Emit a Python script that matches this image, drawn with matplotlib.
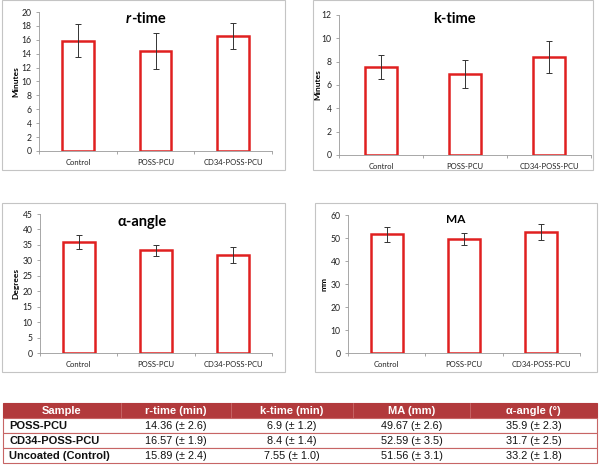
import matplotlib.pyplot as plt
from matplotlib.patches import Rectangle

plt.rcParams['font.family'] = ['Lato', 'DejaVu Sans']

groups = ["Control", "POSS-PCU", "CD34-POSS-PCU"]

r_time = [15.89, 14.36, 16.57]
r_err = [2.4, 2.6, 1.9]
k_time = [7.55, 6.9, 8.4]
k_err = [1.0, 1.2, 1.4]
alpha = [35.9, 33.2, 31.7]
alpha_err = [2.3, 1.8, 2.5]
ma = [51.56, 49.67, 52.59]
ma_err = [3.1, 2.6, 3.5]

table_header = ["Sample", "r-time (min)", "k-time (min)", "MA (mm)", "α-angle (°)"]
table_rows = [
    ["POSS-PCU", "14.36 (± 2.6)", "6.9 (± 1.2)", "49.67 (± 2.6)", "35.9 (± 2.3)"],
    ["CD34-POSS-PCU", "16.57 (± 1.9)", "8.4 (± 1.4)", "52.59 (± 3.5)", "31.7 (± 2.5)"],
    ["Uncoated (Control)", "15.89 (± 2.4)", "7.55 (± 1.0)", "51.56 (± 3.1)", "33.2 (± 1.8)"],
]

W, H = 600, 465
fig = plt.figure(figsize=(6, 4.65), dpi=100)


def px_axes(x0, x1, ytop, ybot):
    return fig.add_axes([x0 / W, 1 - ybot / H, (x1 - x0) / W, (ybot - ytop) / H])


def frame(x0, x1, ytop, ybot):
    fig.add_artist(Rectangle((x0 / W, 1 - ybot / H), (x1 - x0) / W, (ybot - ytop) / H,
                             transform=fig.transFigure, fill=False,
                             edgecolor="#c4c4c4", linewidth=0.8))


def bar_panel(ax, vals, errs, ymax, step, ylabel, width, label_x):
    x = range(len(vals))
    ax.bar(x, vals, width=width, facecolor="white", edgecolor="#e02020", linewidth=1.8)
    ax.errorbar(x, vals, yerr=errs, fmt="none", ecolor="#333333", elinewidth=0.7,
                capsize=2.2, capthick=0.7)
    ax.set_xlim(-0.5, len(vals) - 0.5)
    ax.set_ylim(0, ymax)
    ax.set_yticks(range(0, ymax + 1, step))
    ax.set_xticks(list(x))
    ax.set_xticklabels(groups)
    ax.set_xticks([i - 0.5 for i in range(len(vals) + 1)], minor=True)
    ax.tick_params(axis="x", which="major", length=0, labelsize=5.5, pad=6, labelcolor="#222222")
    ax.tick_params(axis="x", which="minor", length=2.5, color="#999999", width=0.6)
    ax.tick_params(axis="y", length=2.5, color="#999999", width=0.6, labelsize=6.2,
                   labelcolor="#222222", pad=3)
    for s in ("top", "right"):
        ax.spines[s].set_visible(False)
    for s in ("left", "bottom"):
        ax.spines[s].set_color("#999999")
        ax.spines[s].set_linewidth(0.6)
    ax.set_ylabel(ylabel, fontsize=6, fontweight="bold")
    ax.yaxis.set_label_coords(label_x, 0.5)


# r-time
frame(2, 285, 0, 170)
ax1 = px_axes(39, 272, 12, 151)
bar_panel(ax1, r_time, r_err, 20, 2, "Minutes", 0.41, -0.086)
ax1.text(0.395, 0.95, "r", transform=ax1.transAxes, ha="right", va="center",
         fontsize=10.5, fontweight="bold", fontstyle="italic")
ax1.text(0.395, 0.95, "-time", transform=ax1.transAxes, ha="left", va="center",
         fontsize=10.5, fontweight="bold")

# k-time
frame(313, 593, 0, 170)
ax2 = px_axes(339, 591, 15, 155)
bar_panel(ax2, k_time, k_err, 12, 2, "Minutes", 0.39, -0.071)
ax2.text(0.46, 0.97, "k-time", transform=ax2.transAxes, ha="center", va="center",
         fontsize=10.5, fontweight="bold")

# alpha-angle
frame(2, 285, 203, 372)
ax3 = px_axes(40, 272, 214, 353)
bar_panel(ax3, alpha, alpha_err, 45, 5, "Degrees", 0.41, -0.09)
ax3.text(0.44, 0.94, "α-angle", transform=ax3.transAxes, ha="center", va="center",
         fontsize=10.5, fontweight="bold")

# MA
frame(315, 597, 203, 372)
ax4 = px_axes(348, 580, 215, 353)
bar_panel(ax4, ma, ma_err, 60, 10, "mm", 0.41, -0.09)
ax4.text(0.465, 0.97, "MA", transform=ax4.transAxes, ha="center", va="center",
         fontsize=8.5, fontweight="bold")

# table
tab = fig.add_axes([0, 0, 1, 1], zorder=5)
tab.set_xlim(0, W)
tab.set_ylim(H, 0)
tab.axis("off")
col_edges = [3, 121, 231, 353, 470, 597]
row_top = 403
row_h = 15
header_color = "#b23a3c"
line_color = "#c76565"
tfont = ["Liberation Sans", "DejaVu Sans"]

tab.add_patch(Rectangle((col_edges[0], row_top), col_edges[-1] - col_edges[0], row_h,
                        facecolor=header_color, edgecolor=header_color, linewidth=0.8))
for j, h in enumerate(table_header):
    xc = (col_edges[j] + col_edges[j + 1]) / 2
    tab.text(xc, row_top + row_h / 2 + 0.5, h, ha="center", va="center", color="white",
             fontsize=8, fontweight="bold", family=tfont)
for j in range(1, len(col_edges) - 1):
    tab.plot([col_edges[j]] * 2, [row_top, row_top + row_h], color="#c96a6a", lw=0.6)

for i, row in enumerate(table_rows):
    y0 = row_top + row_h * (i + 1)
    tab.add_patch(Rectangle((col_edges[0], y0), col_edges[-1] - col_edges[0], row_h,
                            facecolor="white", edgecolor=line_color, linewidth=0.8))
    for j, cell in enumerate(row):
        if j == 0:
            tab.text(col_edges[0] + 6, y0 + row_h / 2 + 0.5, cell, ha="left", va="center",
                     fontsize=8, fontweight="bold", color="#111111", family=tfont)
        else:
            xc = (col_edges[j] + col_edges[j + 1]) / 2
            tab.text(xc, y0 + row_h / 2 + 0.5, cell, ha="center", va="center",
                     fontsize=7.8, color="#111111", family=tfont)

fig.savefig("out.png", dpi=100)
